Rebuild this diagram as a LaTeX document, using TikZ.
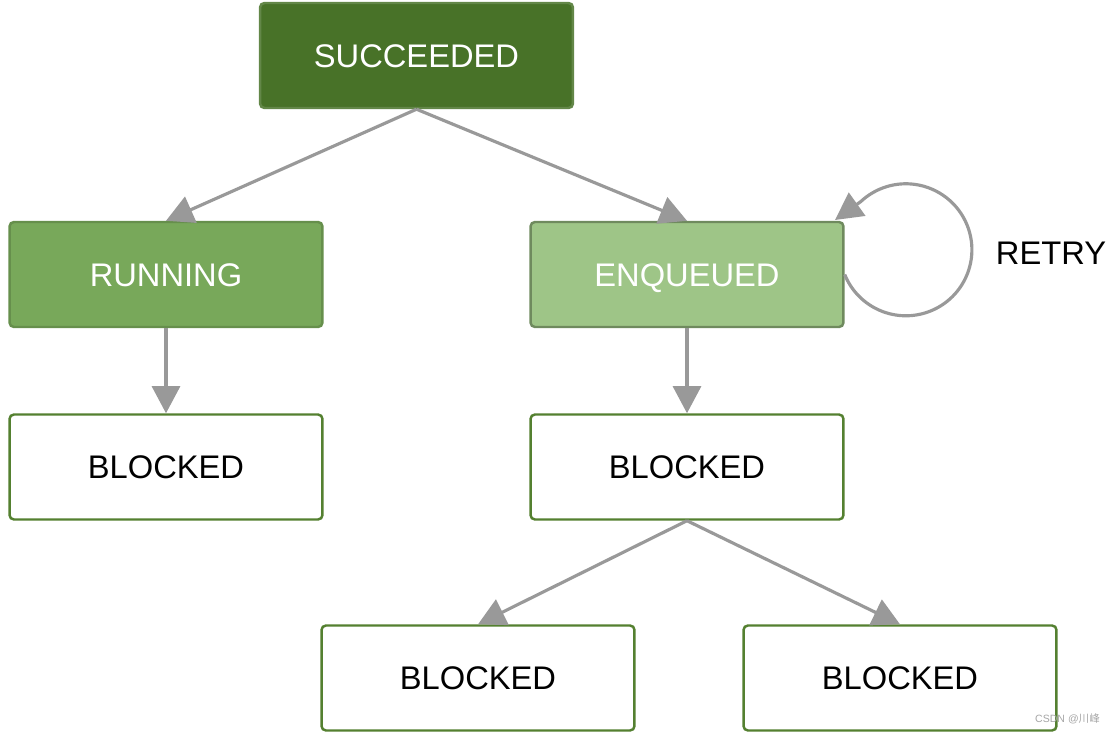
\documentclass[tikz,border=0pt]{standalone}
\usepackage{fontspec}
\setmainfont{Liberation Sans}
\newfontfamily\cjk{Noto Sans CJK SC}
\usetikzlibrary{arrows.meta}

\definecolor{darkgreen}{RGB}{72,114,40}
\definecolor{midgreen}{RGB}{120,168,90}
\definecolor{lightgreen}{RGB}{158,197,135}
\definecolor{edgegreen}{RGB}{84,128,48}
\definecolor{arrowgray}{RGB}{153,153,153}

\begin{document}
\begin{tikzpicture}[x=0.02cm,y=0.02cm,
        state/.style={draw=edgegreen,line width=1.4pt,rounded corners=2.5pt,
            minimum width=6.26cm,minimum height=2.1cm,
            text height=13.4pt,text depth=0pt,
            font=\fontsize{18.6}{22}\selectfont},
        blocked/.style={state,fill=white,text=black},
        arr/.style={draw=arrowgray,line width=1.8pt,
            -{Triangle[length=15.5pt,width=16pt]}}]
        \useasboundingbox (0,0) rectangle (1120,-736);

        \node[state,fill=darkgreen,draw=darkgreen!85!white,text=white] (succ) at (416.5,-55.5) {SUCCEEDED};
        \node[state,fill=midgreen,draw=midgreen!85!black,text=white] (run) at (166,-274.5) {RUNNING};
        \node[state,fill=lightgreen,draw=lightgreen!70!black,text=white] (enq) at (687,-274.5) {ENQUEUED};
        \node[blocked] (blkA) at (166,-467) {BLOCKED};
        \node[blocked] (blkB) at (687,-467) {BLOCKED};
        \node[blocked] (blkC) at (478,-678) {BLOCKED};
        \node[blocked] (blkD) at (900,-678) {BLOCKED};
        \node[font=\fontsize{18.6}{22}\selectfont] (retry) at (1051,-253) {RETRY};
        \node[text=black!35,font=\fontsize{6}{7}\selectfont,anchor=east] (mark) at (1106,-719) {CSDN @{\cjk 川峰}};
        \coordinate (loopend) at (835,-220);

        \draw[arr] (succ.south) -- (run.north);
        \draw[arr] (succ.south) -- (enq.north);
        \draw[arr] (run) -- (blkA);
        \draw[arr] (enq) -- (blkB);
        \draw[arr] (blkB.south) -- (blkC.north);
        \draw[arr] (blkB.south) -- (blkD.north);
        \draw[arr] (enq.east) arc[start angle=-158,end angle=133,radius=66] -- (loopend);
    \end{tikzpicture}
\end{document}
